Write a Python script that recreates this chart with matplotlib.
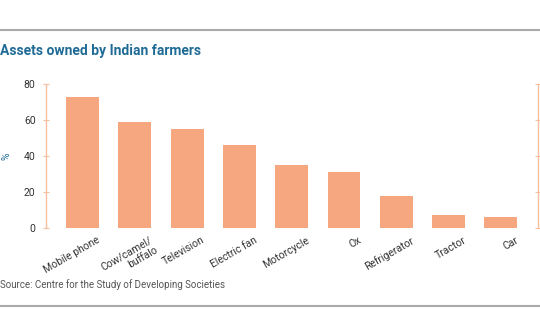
import numpy as np
import matplotlib.pyplot as plt
from matplotlib.lines import Line2D

# asset ownership, % of farmers
assets = ["Mobile phone", "Cow/camel/\nbuffalo", "Television", "Electric fan",
          "Motorcycle", "Ox", "Refrigerator", "Tractor", "Car"]
share = [73, 59, 55, 46, 35, 31, 18, 7, 6]
yticks = [0, 20, 40, 60, 80]

bar_col = "#f7a77f"
axis_col = "#f5bfa0"
blue = "#1f6b96"

plt.rcParams['font.family'] = ['Roboto', 'DejaVu Sans']

fig = plt.figure(figsize=(5.4, 3.34), dpi=100)
ax = fig.add_axes([46/540, 1-228/334, (538-46)/540, 144/334])

x = np.arange(len(assets))
ax.bar(x, share, width=0.63, color=bar_col)

ax.set_ylim(0, 80)
ax.set_xlim(-0.70, 8.71)
ax.set_yticks(yticks)
# labels sit a little right of the bar centre (ticks are hidden)
ax.set_xticks(x + 0.27)
ax.set_xticklabels(assets, rotation=30, ha='right', rotation_mode='anchor',
                   fontsize=7.5, color="#333333", multialignment='right')
ax.tick_params(axis='x', length=0, pad=5)
ax.tick_params(axis='y', direction='inout', length=5, color=axis_col,
               labelsize=7.5, labelcolor="#333333", right=True, pad=5)

for s in ['top', 'bottom']:
    ax.spines[s].set_visible(False)
for s in ['left', 'right']:
    ax.spines[s].set_color(axis_col)
    ax.spines[s].set_linewidth(1.0)

ax.set_ylabel("%", color=blue, fontsize=7.5)
ax.yaxis.set_label_coords(-34/492, 0.5)

# header and footer
fig.text(0.0, 1-51/334, "Assets owned by Indian farmers", color=blue,
         fontsize=10, fontweight='bold', va='center', ha='left')
fig.text(0.0, 1-285/334, "Source: Centre for the Study of Developing Societies",
         color="#555555", fontsize=7, va='center', ha='left')
fig.add_artist(Line2D([0, 1], [1-30/334, 1-30/334], color="#aaaaaa", lw=1.5,
                      transform=fig.transFigure))
fig.add_artist(Line2D([0, 1], [1-306/334, 1-306/334], color="#aaaaaa", lw=1.5,
                      transform=fig.transFigure))

fig.savefig("out.png", dpi=100)
